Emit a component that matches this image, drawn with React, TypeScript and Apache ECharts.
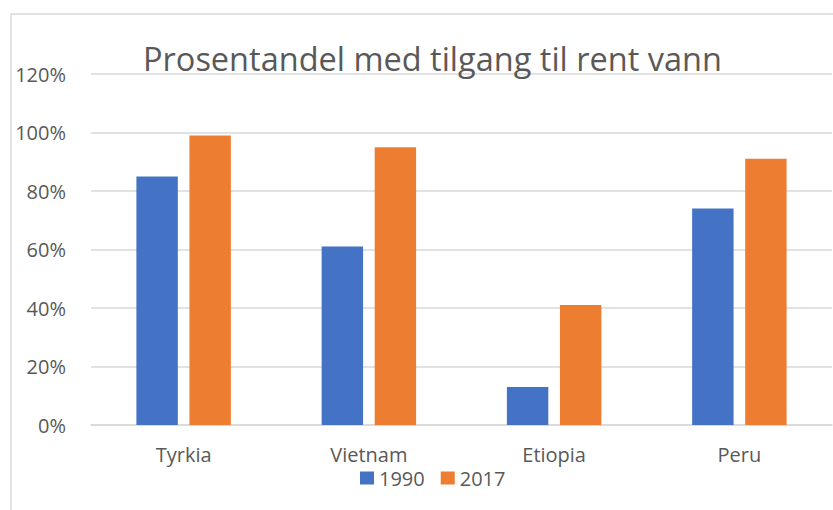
import React, { useEffect, useRef } from "react";
import * as echarts from "echarts";

const categories = ["Tyrkia", "Vietnam", "Etiopia", "Peru"];
const values1990 = [85, 61, 13, 74];
const values2017 = [99, 95, 41, 91];
const seriesNames = ["1990", "2017"];
const titleText = "Prosentandel med tilgang til rent vann";

const FONT = "'Open Sans', 'Noto Sans', sans-serif";
const TEXT = "#595959";

export default function App() {
  const ref = useRef<HTMLDivElement>(null);
  useEffect(() => {
    if (!ref.current) return;
    const chart = echarts.init(ref.current, null, { renderer: "svg" });
    chart.setOption({
      animation: false,
      backgroundColor: "#ffffff",
      title: {
        text: titleText,
        left: 138,
        top: 33,
        textStyle: { color: TEXT, fontSize: 32.5, fontWeight: "normal", fontFamily: FONT, lineHeight: 40 },
      },
      graphic: [
        {
          type: "rect",
          shape: { x: 11, y: 14, width: 840, height: 520 },
          style: { fill: "none", stroke: "#d9d9d9", lineWidth: 1.5 },
          silent: true,
        },
      ],
      legend: {
        data: seriesNames,
        left: 355,
        top: 463,
        itemWidth: 14,
        itemHeight: 13,
        itemGap: 16,
        icon: "rect",
        textStyle: { color: TEXT, fontSize: 20, fontFamily: FONT, padding: [0, 0, 0, 0] },
      },
      grid: { left: 91, right: 1, top: 74, bottom: 85 },
      xAxis: {
        type: "category",
        data: categories,
        axisLine: { lineStyle: { color: "#d9d9d9", width: 1.5 } },
        axisTick: { show: false },
        axisLabel: { color: TEXT, fontSize: 20, fontFamily: FONT, margin: 19 },
      },
      yAxis: {
        type: "value",
        min: 0,
        max: 120,
        interval: 20,
        axisLine: { show: false },
        axisTick: { show: false },
        splitLine: { lineStyle: { color: "#d9d9d9", width: 1.5 } },
        axisLabel: { color: TEXT, fontSize: 20, fontFamily: FONT, margin: 25, formatter: "{value}%" },
      },
      series: [
        {
          name: seriesNames[0],
          type: "bar",
          data: values1990,
          itemStyle: { color: "#4472C4" },
          barGap: "28%",
          barCategoryGap: "49%",
        },
        {
          name: seriesNames[1],
          type: "bar",
          data: values2017,
          itemStyle: { color: "#ED7D31" },
          barGap: "28%",
          barCategoryGap: "49%",
        },
      ],
    });
    return () => chart.dispose();
  }, []);
  return <div ref={ref} style={{ position: "fixed", left: 0, top: 0, width: 833, height: 510 }} />;
}
